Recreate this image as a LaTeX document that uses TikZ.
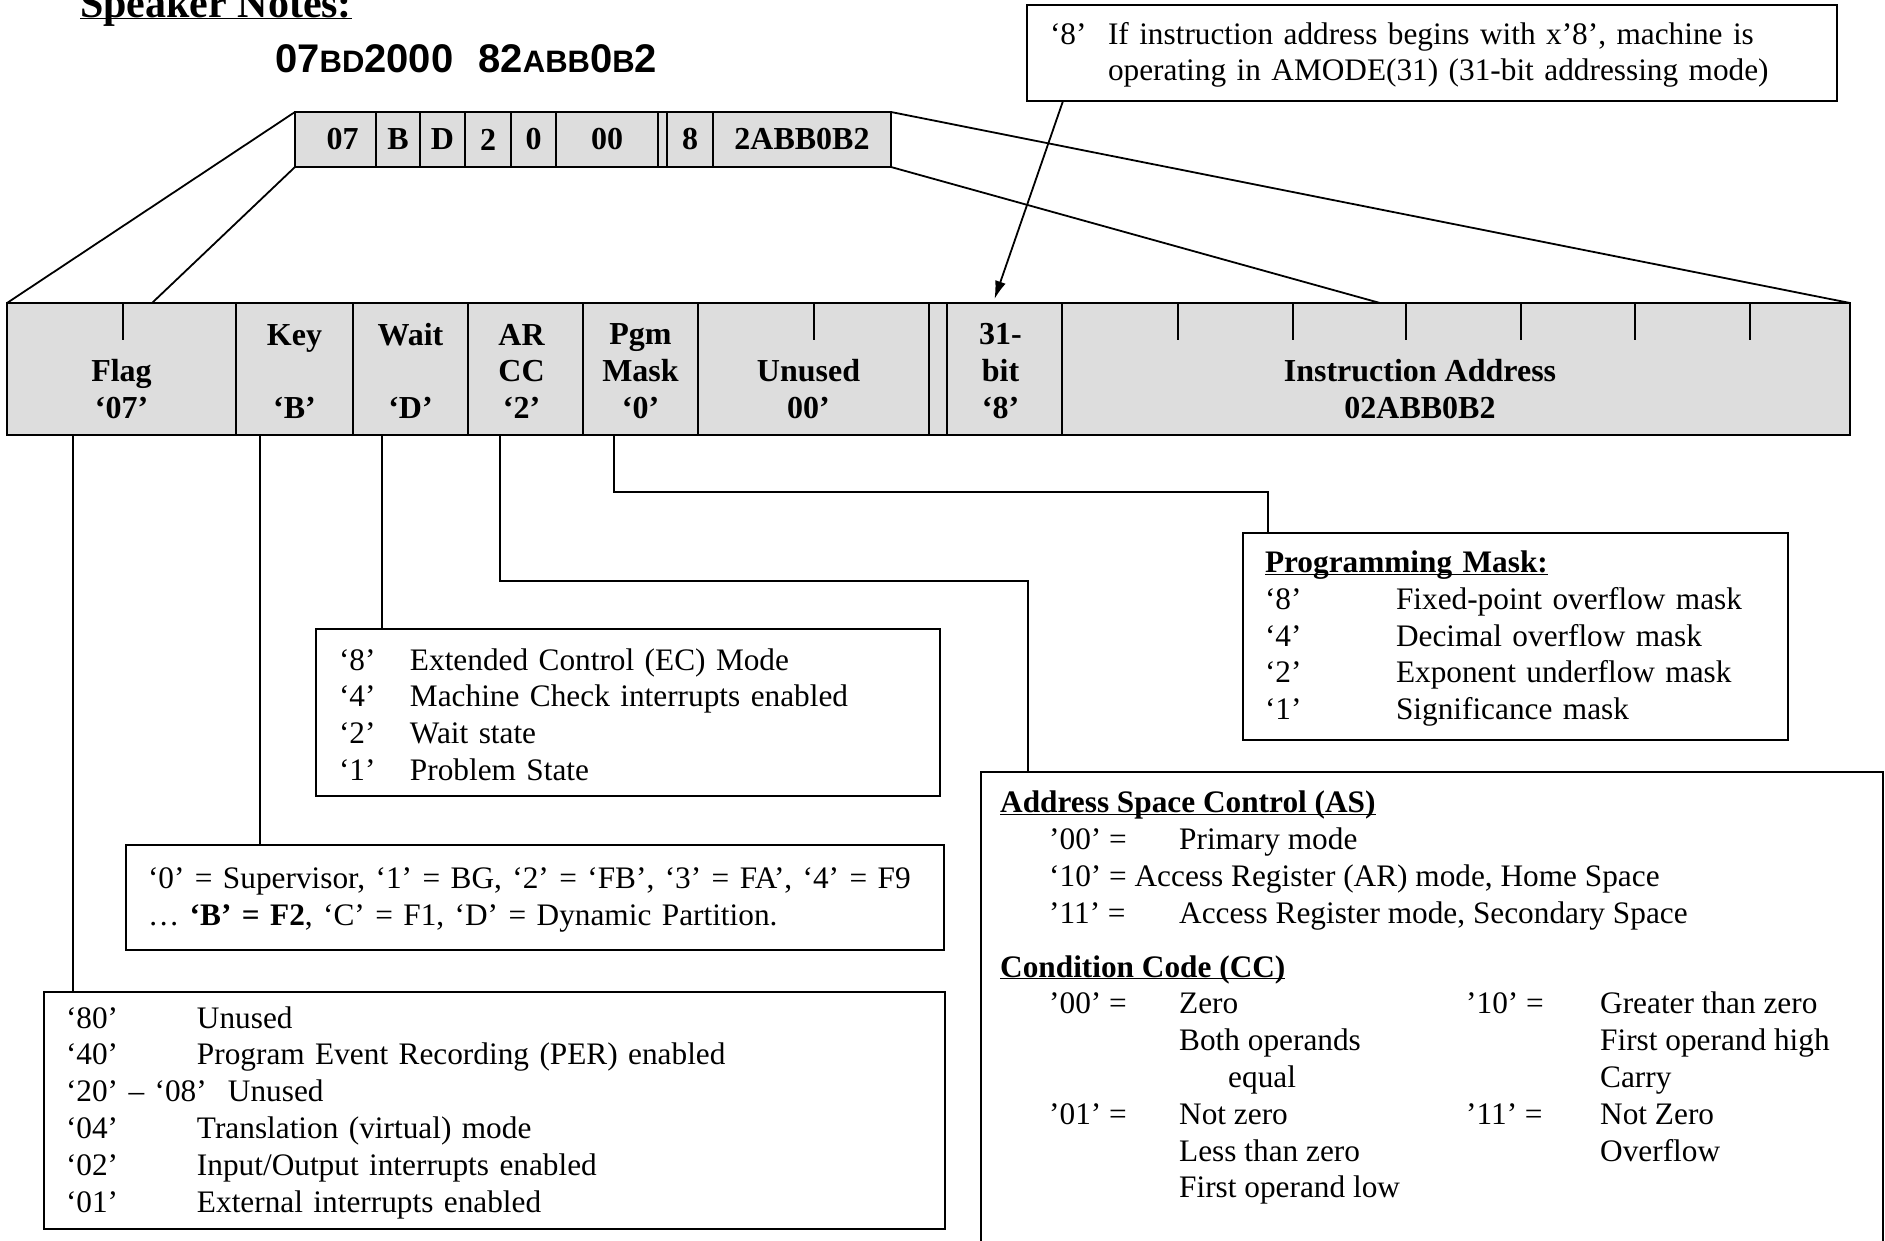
\documentclass[tikz,border=0pt]{standalone}
\usepackage{fontspec}
\setmainfont{Liberation Serif}
\newfontfamily\hexfont{Liberation Sans}
\usetikzlibrary{arrows.meta}
\definecolor{regfill}{RGB}{221,221,221}
\newcommand{\notesize}{\fontsize{31.3pt}{36.8pt}\selectfont}
\newcommand{\regsize}{\fontsize{32pt}{36.8pt}\selectfont}
\newcommand{\colbox}[2]{\makebox[#1][l]{#2}}
\newcommand{\headline}[1]{\underline{\smash{\textbf{#1}}}}
\newcommand{\hexsmall}[1]{{\fontsize{31pt}{31pt}\selectfont #1}}
\tikzset{
	regcell/.style={draw, fill=regfill, line width=2pt, outer sep=0pt, inner sep=0pt, anchor=north west, minimum height=132pt, align=center, font=\regsize\bfseries},
	hexcell/.style={draw, fill=regfill, line width=2pt, outer sep=0pt, inner sep=0pt, anchor=north west, minimum height=55pt, font=\regsize\bfseries},
	notebox/.style={draw, line width=2pt, outer sep=0pt, inner xsep=22pt, inner ysep=0pt, anchor=north west, align=left, font=\notesize},
	link/.style={line width=1.8pt}
}

\begin{document}
\begin{tikzpicture}[x=1pt, y=-1pt]
	\useasboundingbox (0,0) rectangle (1885,1240);
	\clip (0,0) rectangle (1885,1240);
	\node[anchor=base west, inner sep=0pt, font=\fontsize{42pt}{46pt}\selectfont] (title) at (80,17) {\headline{Speaker Notes:}};
	\node[anchor=base west, inner sep=0pt, font=\hexfont\bfseries\fontsize{40pt}{44pt}\selectfont] (hexval) at (275,72) {07\hexsmall{BD}2000\hspace{25pt}82\hexsmall{ABB}0\hexsmall{B}2};
	% the PSW as it was dumped
	\foreach \nm/\x/\w/\t in {hx07/295/81/{\kern14pt 07}, hxB/376/44/B, hxD/420/45/D, hx2/465/46/2, hx0/511/45/0, hx00/556/102/00, hxgap/658/9/{}, hx8/667/46/8, hxaddr/713/178/2ABB0B2}
		\node[hexcell, minimum width=\w] (\nm) at (\x,112) {\t};
	% the PSW split into its fields
	\foreach \nm/\x/\w/\t in {flag/7/229/{\strut\\Flag\\‘07’}, key/236/117/{\strut Key\\~\\‘B’}, wait/353/115/{\strut Wait\\~\\‘D’}, arcc/468/115/{\strut AR\kern8pt\\CC\kern8pt\\‘2’\kern8pt}, pgm/583/115/{\strut Pgm\\Mask\\‘0’}, unused/698/231/{\strut\\Unused\kern10pt\\00’\kern10pt}, gap/929/18/{}, bit31/947/115/{\strut 31-\kern8pt\\bit\kern8pt\\‘8’\kern8pt}, iaddr/1062/788/{\strut\\Instruction Address\kern72pt\\02ABB0B2\kern72pt}}
		\node[regcell, minimum width=\w] (\nm) at (\x,303) {\t};
	\draw[link] ([xshift=116]flag.north west) -- ++(0,37);
	\draw[link] ([xshift=116]unused.north west) -- ++(0,37);
	\foreach \x in {116,231,344,459,573,688}
		\draw[link] ([xshift=\x]iaddr.north west) -- ++(0,37);
	\draw[link] (hx07.north west) -- (flag.north west);
	\draw[link] (hx07.south west) -- ([xshift=145]flag.north west);
	\draw[link] (hxaddr.north east) -- (iaddr.north east);
	\draw[link] (hxaddr.south east) -- ([xshift=318]iaddr.north west);
	% notes
	\node[notebox, inner xsep=23pt, text width=764pt, minimum height=96pt] (amode) at (1027,5) {\strut\colbox{58pt}{‘8’}If instruction address begins with x’8’, machine is\\\hspace*{58pt}operating in AMODE(31) (31-bit addressing mode)};
	\node[notebox, text width=501pt, minimum height=207pt] (pmbox) at (1243,533) {\strut\headline{Programming Mask:}\\
		\colbox{131pt}{‘8’}Fixed-point overflow mask\\
		\colbox{131pt}{‘4’}Decimal overflow mask\\
		\colbox{131pt}{‘2’}Exponent underflow mask\\
		\colbox{131pt}{‘1’}Significance mask};
	\node[notebox, inner xsep=23pt, text width=578pt, minimum height=167pt] (waitbox) at (316,629) {\strut\colbox{71pt}{‘8’}Extended Control (EC) Mode\\
		\colbox{71pt}{‘4’}Machine Check interrupts enabled\\
		\colbox{71pt}{‘2’}Wait state\\
		\colbox{71pt}{‘1’}Problem State};
	\node[notebox, text width=774pt, minimum height=105pt] (keybox) at (126,845) {\strut‘0’ = Supervisor, ‘1’ = BG, ‘2’ = ‘FB’, ‘3’ = FA’, ‘4’ = F9\\
		… \textbf{‘B’ = F2}, ‘C’ = F1, ‘D’ = Dynamic Partition.};
	\node[notebox, text width=857pt, minimum height=237pt] (flagbox) at (44,992) {\strut\colbox{131pt}{‘80’}Unused\\
		\colbox{131pt}{‘40’}Program Event Recording (PER) enabled\\
		\colbox{162pt}{‘20’ – ‘08’}Unused\\
		\colbox{131pt}{‘04’}Translation (virtual) mode\\
		\colbox{131pt}{‘02’}Input/Output interrupts enabled\\
		\colbox{131pt}{‘01’}External interrupts enabled};
	\node[notebox, minimum width=902pt, minimum height=520pt] (asbox) at (981,772) {};
	\node[anchor=north west, inner sep=0pt, align=left, font=\notesize] (astext) at (1000,787) {\strut\headline{Address Space Control (AS)}\\
		\hspace*{49pt}\colbox{130pt}{’00’ =}Primary mode\\
		\hspace*{49pt}‘10’ = Access Register (AR) mode, Home Space\\
		\hspace*{49pt}\colbox{130pt}{’11’ =}Access Register mode, Secondary Space\\[17pt]
		\headline{Condition Code (CC)}\\
		\hspace*{49pt}\colbox{130pt}{’00’ =}\colbox{287pt}{Zero}\colbox{134pt}{’10’ =}Greater than zero\\
		\hspace*{179pt}\colbox{421pt}{Both operands}First operand high\\
		\hspace*{228pt}\colbox{372pt}{equal}Carry\\
		\hspace*{49pt}\colbox{130pt}{’01’ =}\colbox{287pt}{Not zero}\colbox{134pt}{’11’ =}Not Zero\\
		\hspace*{179pt}\colbox{421pt}{Less than zero}Overflow\\
		\hspace*{179pt}First operand low};
	% legs from the fields down to their notes
	\coordinate (flagleg) at ([xshift=66]flag.south west);
	\coordinate (keyleg) at ([xshift=24]key.south west);
	\coordinate (waitleg) at ([xshift=29]wait.south west);
	\coordinate (arccleg) at ([xshift=32]arcc.south west);
	\coordinate (pgmleg) at ([xshift=31]pgm.south west);
	\draw[link] (flagleg) -- (flagleg |- flagbox.north);
	\draw[link] (keyleg) -- (keyleg |- keybox.north);
	\draw[link] (waitleg) -- (waitleg |- waitbox.north);
	\draw[link] (arccleg) -- ++(0,146) -| ([xshift=47]asbox.north west);
	\draw[link] (pgmleg) -- ++(0,57) -| ([xshift=25]pmbox.north west);
	\coordinate (amodetip) at ([xshift=-10,yshift=4]bit31.north);
	\draw[link, -{Latex[length=18pt, width=11pt]}] ([xshift=36]amode.south west) -- (amodetip);
\end{tikzpicture}
\end{document}
